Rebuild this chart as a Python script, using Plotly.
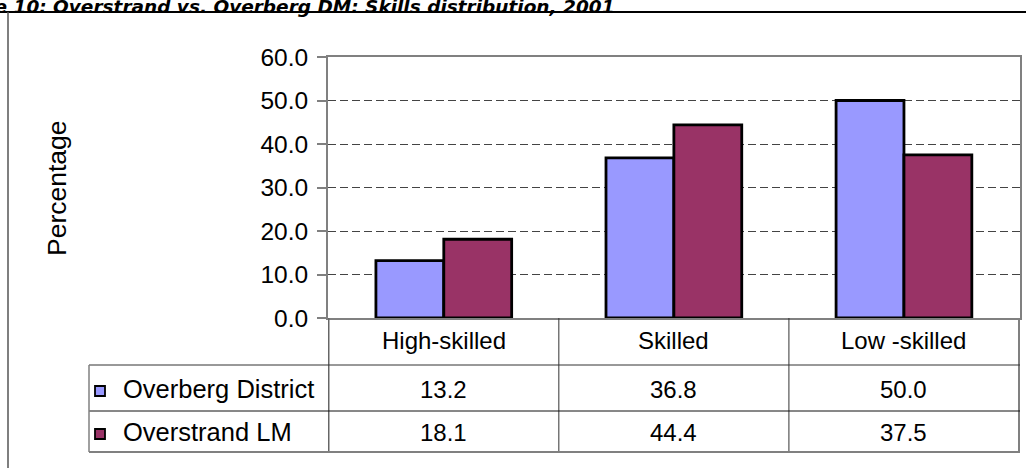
import plotly.graph_objects as go

# Skills distribution, 2001 (percentage of employed)
categories = ["High-skilled", "Skilled", "Low -skilled"]
series_names = ["Overberg District", "Overstrand LM"]
overberg = [13.2, 36.8, 50.0]
overstrand = [18.1, 44.4, 37.5]
series_values = [overberg, overstrand]
series_colors = ["#9999FF", "#993366"]
y_ticks = [0, 10, 20, 30, 40, 50, 60]

W, H = 1026, 468


def px(x):
    return x / W


def py(y):
    return 1 - y / H


# plot area in pixels
PL, PR, PT, PB = 328, 1020, 57, 318
TABLE_LEFT, ROW1_TOP, ROW2_TOP, TABLE_BOTTOM = 89, 365, 411, 452
ROW_CENTERS = [389, 432]
FONT = "Liberation Sans, Arial, sans-serif"

fig = go.Figure()
for name, vals, col in zip(series_names, series_values, series_colors):
    fig.add_trace(go.Bar(
        x=categories, y=vals, name=name,
        marker=dict(color=col, line=dict(color="#000000", width=2.8)),
        showlegend=False,
    ))

shapes = []
annotations = []


def line(x0, y0, x1, y1, color, width, xref="paper"):
    shapes.append(dict(type="line", xref=xref, yref="paper",
                       x0=x0, x1=x1, y0=py(y0), y1=py(y1),
                       line=dict(color=color, width=width)))


def label(x, y, text, size, xref="paper", xanchor="center", **kw):
    annotations.append(dict(x=x, xref=xref, y=py(y), yref="paper",
                            xanchor=xanchor, yanchor="middle",
                            text=text, showarrow=False,
                            font=dict(family=FONT, size=size, color="#000000"),
                            **kw))


# data table grid under the plot
for b in [0.5, 1.5]:
    line(b, PB, b, TABLE_BOTTOM, "#333333", 1, xref="x")
line(-0.5, PB, -0.5, TABLE_BOTTOM, "#666666", 1.5, xref="x")
line(2.5, PB, 2.5, TABLE_BOTTOM, "#808080", 2, xref="x")
line(px(TABLE_LEFT), ROW1_TOP, px(PR), ROW1_TOP, "#333333", 1)
line(px(TABLE_LEFT), ROW2_TOP, px(PR), ROW2_TOP, "#111111", 1)
line(px(TABLE_LEFT), TABLE_BOTTOM, px(PR), TABLE_BOTTOM, "#808080", 2)
line(px(TABLE_LEFT), ROW1_TOP, px(TABLE_LEFT), TABLE_BOTTOM, "#808080", 1.5)

# outer frame (top rule and left edge)
line(0, 12, 1, 12, "#000000", 2)
line(px(8), 12, px(8), H, "#555555", 1.5)

# category labels and values in the table
for i, cat in enumerate(categories):
    label(cat, 340, cat, 24, xref="x")
    for r, vals in enumerate(series_values):
        label(cat, ROW_CENTERS[r], f"{vals[i]:.1f}", 24, xref="x")

# legend keys and series names in the first column
for r, (name, col) in enumerate(zip(series_names, series_colors)):
    cy = ROW_CENTERS[r] + 2
    shapes.append(dict(type="rect", xref="paper", yref="paper",
                       x0=px(95), x1=px(105), y0=py(cy + 5), y1=py(cy - 5),
                       fillcolor=col, line=dict(color="#000000", width=1.8)))
    label(px(121), ROW_CENTERS[r], name, 25.5, xanchor="left")

# y-axis title
label(px(57), 188, "Percentage", 26.5, textangle=-90)

# figure caption
annotations.append(dict(x=px(617), y=py(19.5), xref="paper", yref="paper",
                        xanchor="right", yanchor="bottom",
                        text="<b><i>Figure 10: Overstrand vs. Overberg DM: Skills distribution, 2001</i></b>",
                        showarrow=False,
                        font=dict(family="DejaVu Sans, sans-serif", size=18.5, color="#000000")))

fig.update_layout(
    width=W, height=H,
    margin=dict(l=0, r=0, t=0, b=0, autoexpand=False),
    paper_bgcolor="#FFFFFF", plot_bgcolor="#FFFFFF",
    barmode="group", bargap=0.41, bargroupgap=0,
    xaxis=dict(domain=[px(PL), px(PR)], showticklabels=False, ticks="",
               showline=True, linecolor="#808080", linewidth=2, mirror=True,
               showgrid=False, zeroline=False, fixedrange=True),
    yaxis=dict(domain=[py(PB), py(PT)], range=[0, 60], tickvals=y_ticks,
               tickformat=".1f", ticks="outside", ticklen=9, tickwidth=1.5,
               tickcolor="#808080", ticklabelstandoff=4,
               tickfont=dict(family=FONT, size=24.5, color="#000000"),
               showline=True, linecolor="#808080", linewidth=2, mirror=True,
               showgrid=True, gridcolor="#444444", gridwidth=1, griddash="8px,4px",
               zeroline=False, fixedrange=True),
    shapes=shapes, annotations=annotations,
)

fig.write_html(
    "out.html",
    config={"displayModeBar": False},
    post_script="document.body.style.margin='0';document.body.style.overflow='hidden';",
)
